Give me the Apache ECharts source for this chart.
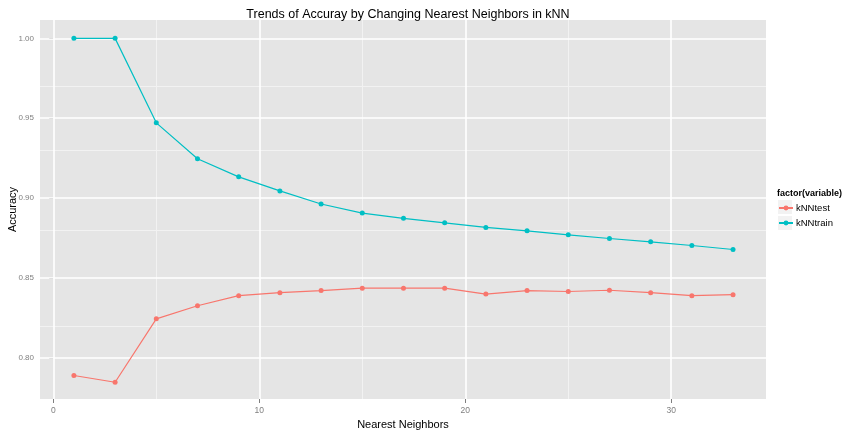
<!DOCTYPE html>
<html><head><meta charset="utf-8">
<script src="https://cdn.jsdelivr.net/npm/echarts@6/dist/echarts.min.js"></script>
<style>html,body{margin:0;padding:0;background:#fff}#c{width:842px;height:432px}</style>
</head><body><div id="c"></div>
<script>
const neighbors = [1,3,5,7,9,11,13,15,17,19,21,23,25,27,29,31,33];
const kNNtest = [0.7889,0.7847,0.8244,0.8326,0.8389,0.8408,0.8421,0.8436,0.8436,0.8436,0.8399,0.8421,0.8415,0.8423,0.8408,0.8389,0.8395];
const kNNtrain = [1.0000,1.0000,0.9471,0.9246,0.9133,0.9045,0.8963,0.8906,0.8873,0.8845,0.8816,0.8795,0.8770,0.8747,0.8726,0.8703,0.8678];
const xTicks = [0,10,20,30];
const xMinor = [5,15,25];
const yTicks = [0.80,0.85,0.90,0.95,1.00];
const yMinor = [0.825,0.875,0.925,0.975];
const seriesNames = ['kNNtest','kNNtrain'];
const colors = ['#F8766D','#00BFC4'];

const font = 'Liberation Sans, Arial, sans-serif';
const chart = echarts.init(document.getElementById('c'), null, {renderer:'canvas'});

const gridLines = [];
xMinor.forEach(v=>gridLines.push({xAxis:v, lineStyle:{color:'#f2f2f2',width:1,type:'solid'}}));
yMinor.forEach(v=>gridLines.push({yAxis:v, lineStyle:{color:'#f2f2f2',width:1,type:'solid'}}));
xTicks.forEach(v=>gridLines.push({xAxis:v, lineStyle:{color:'#ffffff',width:1.6,type:'solid'}}));
yTicks.forEach(v=>gridLines.push({yAxis:v, lineStyle:{color:'#ffffff',width:1.6,type:'solid'}}));

function mkSeries(name, vals, color){
  return {
    name, type:'line', data: neighbors.map((x,i)=>[x, vals[i]]),
    symbol:'circle', symbolSize:5, showSymbol:true,
    itemStyle:{color}, lineStyle:{color, width:1.2}, z:5, animation:false
  };
}

chart.setOption({
  animation:false,
  backgroundColor:'#ffffff',
  title:{text:'Trends of Accuray by Changing Nearest Neighbors in kNN', left:403, top:3, textAlign:'center',
    textStyle:{fontFamily:font, fontSize:12.5, fontWeight:'normal', color:'#000'}},
  grid:{left:40, right:76, top:20, bottom:33, show:true, backgroundColor:'#e5e5e5', borderWidth:0,
    containLabel:false, outerBoundsMode:'none'},
  xAxis:{type:'value', min:-0.646, max:34.6,
    name:'Nearest Neighbors', nameLocation:'middle', nameGap:18,
    nameTextStyle:{fontFamily:font, fontSize:11, color:'#000'},
    axisLine:{show:false},
    axisTick:{show:true, length:4, customValues:xTicks, lineStyle:{color:'#7f7f7f'}},
    axisLabel:{customValues:xTicks, fontFamily:font, fontSize:8.5, color:'#7f7f7f', margin:7},
    splitLine:{show:false}},
  yAxis:{type:'value', min:0.7742, max:1.0115,
    name:'Accuracy', nameLocation:'middle', nameGap:22, nameRotate:90, nameMoveOverlap:false,
    nameTextStyle:{fontFamily:font, fontSize:11, color:'#000'},
    axisLine:{show:false},
    axisTick:{show:true, length:4, customValues:yTicks, lineStyle:{color:'#7f7f7f'}},
    axisLabel:{customValues:yTicks, formatter:v=>v.toFixed(2), fontFamily:font, fontSize:8, color:'#7f7f7f', margin:6},
    splitLine:{show:false}},
  legend:{orient:'vertical', left:778, top:203, padding:0, itemWidth:14, itemHeight:6, itemGap:5,
    data:seriesNames, textStyle:{fontFamily:font, fontSize:9.5, color:'#000', padding:[0,0,0,-2]}},
  graphic:[
    {type:'text', left:777, top:189, style:{text:'factor(variable)', font:'bold 9px '+font, fill:'#000'}},
    {type:'rect', shape:{x:778,y:200,width:14,height:14}, style:{fill:'#f2f2f2'}, z:-1},
    {type:'rect', shape:{x:778,y:216,width:14,height:14}, style:{fill:'#f2f2f2'}, z:-1}
  ],
  series:[
    {type:'line', data:[], silent:true, markLine:{silent:true, symbol:['none','none'], label:{show:false}, data:gridLines, animation:false}, z:1},
    mkSeries(seriesNames[0], kNNtest, colors[0]),
    mkSeries(seriesNames[1], kNNtrain, colors[1])
  ]
});
</script></body></html>
